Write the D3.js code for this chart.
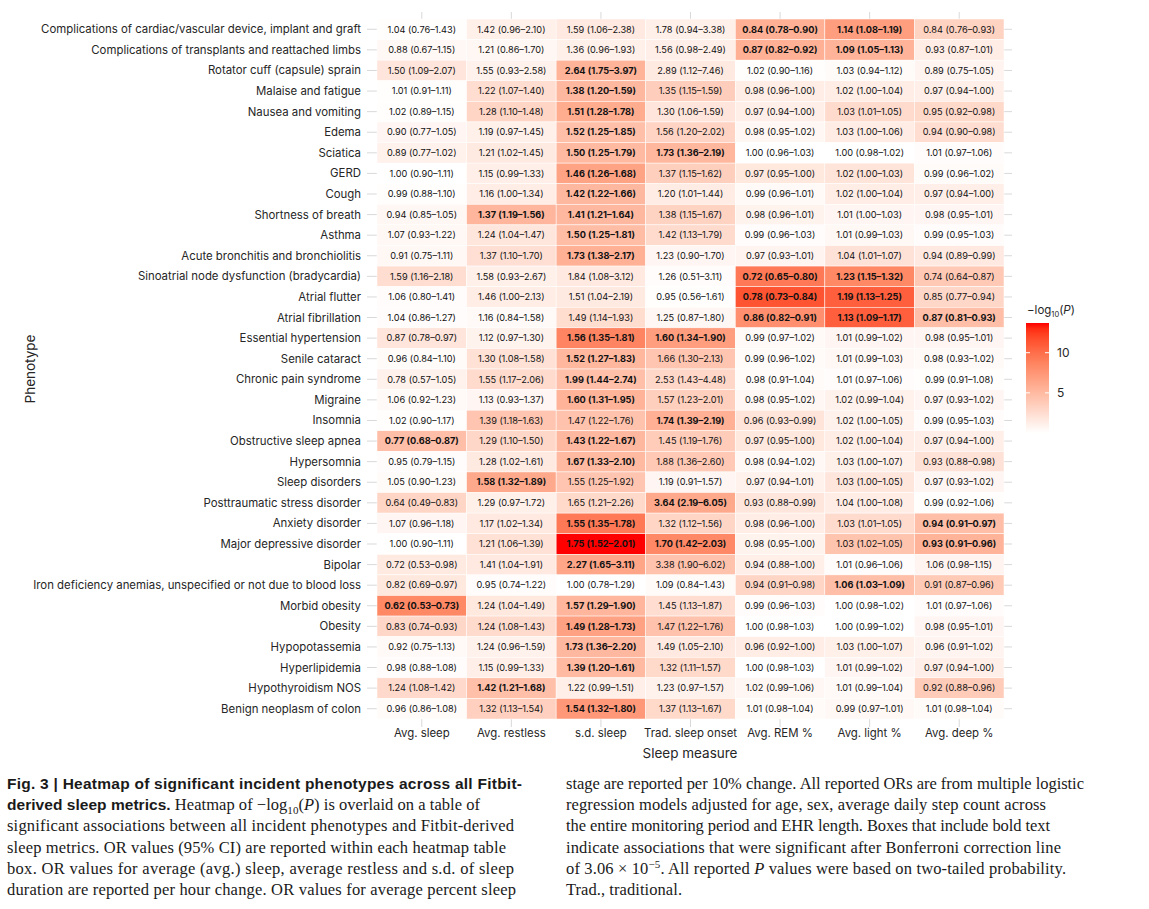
<!DOCTYPE html>
<html><head><meta charset="utf-8">
<script src="https://cdn.jsdelivr.net/npm/d3@7"></script>
<style>
body{margin:0;background:#fff;}
svg{display:block;}
</style></head><body>
<svg id="chart" width="1149" height="909"></svg>
<script>
const sleepMeasures = ["Avg. sleep","Avg. restless","s.d. sleep","Trad. sleep onset","Avg. REM %","Avg. light %","Avg. deep %"];
const phenotypes = [
"Complications of cardiac/vascular device, implant and graft",
"Complications of transplants and reattached limbs",
"Rotator cuff (capsule) sprain",
"Malaise and fatigue",
"Nausea and vomiting",
"Edema",
"Sciatica",
"GERD",
"Cough",
"Shortness of breath",
"Asthma",
"Acute bronchitis and bronchiolitis",
"Sinoatrial node dysfunction (bradycardia)",
"Atrial flutter",
"Atrial fibrillation",
"Essential hypertension",
"Senile cataract",
"Chronic pain syndrome",
"Migraine",
"Insomnia",
"Obstructive sleep apnea",
"Hypersomnia",
"Sleep disorders",
"Posttraumatic stress disorder",
"Anxiety disorder",
"Major depressive disorder",
"Bipolar",
"Iron deficiency anemias, unspecified or not due to blood loss",
"Morbid obesity",
"Obesity",
"Hypopotassemia",
"Hyperlipidemia",
"Hypothyroidism NOS",
"Benign neoplasm of colon"
];
const oddsRatio = [
[1.04,1.42,1.59,1.78,0.84,1.14,0.84],
[0.88,1.21,1.36,1.56,0.87,1.09,0.93],
[1.50,1.55,2.64,2.89,1.02,1.03,0.89],
[1.01,1.22,1.38,1.35,0.98,1.02,0.97],
[1.02,1.28,1.51,1.30,0.97,1.03,0.95],
[0.90,1.19,1.52,1.56,0.98,1.03,0.94],
[0.89,1.21,1.50,1.73,1.00,1.00,1.01],
[1.00,1.15,1.46,1.37,0.97,1.02,0.99],
[0.99,1.16,1.42,1.20,0.99,1.02,0.97],
[0.94,1.37,1.41,1.38,0.98,1.01,0.98],
[1.07,1.24,1.50,1.42,0.99,1.01,0.99],
[0.91,1.37,1.73,1.23,0.97,1.04,0.94],
[1.59,1.58,1.84,1.26,0.72,1.23,0.74],
[1.06,1.46,1.51,0.95,0.78,1.19,0.85],
[1.04,1.16,1.49,1.25,0.86,1.13,0.87],
[0.87,1.12,1.56,1.60,0.99,1.01,0.98],
[0.96,1.30,1.52,1.66,0.99,1.01,0.98],
[0.78,1.55,1.99,2.53,0.98,1.01,0.99],
[1.06,1.13,1.60,1.57,0.98,1.02,0.97],
[1.02,1.39,1.47,1.74,0.96,1.02,0.99],
[0.77,1.29,1.43,1.45,0.97,1.02,0.97],
[0.95,1.28,1.67,1.88,0.98,1.03,0.93],
[1.05,1.58,1.55,1.19,0.97,1.03,0.97],
[0.64,1.29,1.65,3.64,0.93,1.04,0.99],
[1.07,1.17,1.55,1.32,0.98,1.03,0.94],
[1.00,1.21,1.75,1.70,0.98,1.03,0.93],
[0.72,1.41,2.27,3.38,0.94,1.01,1.06],
[0.82,0.95,1.00,1.09,0.94,1.06,0.91],
[0.62,1.24,1.57,1.45,0.99,1.00,1.01],
[0.83,1.24,1.49,1.47,1.00,1.00,0.98],
[0.92,1.24,1.73,1.49,0.96,1.03,0.96],
[0.98,1.15,1.39,1.32,1.00,1.01,0.97],
[1.24,1.42,1.22,1.23,1.02,1.01,0.92],
[0.96,1.32,1.54,1.37,1.01,0.99,1.01]
];
const ciLower = [
[0.76,0.96,1.06,0.94,0.78,1.08,0.76],
[0.67,0.86,0.96,0.98,0.82,1.05,0.87],
[1.09,0.93,1.75,1.12,0.90,0.94,0.75],
[0.91,1.07,1.20,1.15,0.96,1.00,0.94],
[0.89,1.10,1.28,1.06,0.94,1.01,0.92],
[0.77,0.97,1.25,1.20,0.95,1.00,0.90],
[0.77,1.02,1.25,1.36,0.96,0.98,0.97],
[0.90,0.99,1.26,1.15,0.95,1.00,0.96],
[0.88,1.00,1.22,1.01,0.96,1.00,0.94],
[0.85,1.19,1.21,1.15,0.96,1.00,0.95],
[0.93,1.04,1.25,1.13,0.96,0.99,0.95],
[0.75,1.10,1.38,0.90,0.93,1.01,0.89],
[1.16,0.93,1.08,0.51,0.65,1.15,0.64],
[0.80,1.00,1.04,0.56,0.73,1.13,0.77],
[0.86,0.84,1.14,0.87,0.82,1.09,0.81],
[0.78,0.97,1.35,1.34,0.97,0.99,0.95],
[0.84,1.08,1.27,1.30,0.96,0.99,0.93],
[0.57,1.17,1.44,1.43,0.91,0.97,0.91],
[0.92,0.93,1.31,1.23,0.95,0.99,0.93],
[0.90,1.18,1.22,1.39,0.93,1.00,0.95],
[0.68,1.10,1.22,1.19,0.95,1.00,0.94],
[0.79,1.02,1.33,1.36,0.94,1.00,0.88],
[0.90,1.32,1.25,0.91,0.94,1.00,0.93],
[0.49,0.97,1.21,2.19,0.88,1.00,0.92],
[0.96,1.02,1.35,1.12,0.96,1.01,0.91],
[0.90,1.06,1.52,1.42,0.95,1.02,0.91],
[0.53,1.04,1.65,1.90,0.88,0.96,0.98],
[0.69,0.74,0.78,0.84,0.91,1.03,0.87],
[0.53,1.04,1.29,1.13,0.96,0.98,0.97],
[0.74,1.08,1.28,1.22,0.98,0.99,0.95],
[0.75,0.96,1.36,1.05,0.92,1.00,0.91],
[0.88,0.99,1.20,1.11,0.98,0.99,0.94],
[1.08,1.21,0.99,0.97,0.99,0.99,0.88],
[0.86,1.13,1.32,1.13,0.98,0.97,0.98]
];
const ciUpper = [
[1.43,2.10,2.38,3.38,0.90,1.19,0.93],
[1.15,1.70,1.93,2.49,0.92,1.13,1.01],
[2.07,2.58,3.97,7.46,1.16,1.12,1.05],
[1.11,1.40,1.59,1.59,1.00,1.04,1.00],
[1.15,1.48,1.78,1.59,1.00,1.05,0.98],
[1.05,1.45,1.85,2.02,1.02,1.06,0.98],
[1.02,1.45,1.79,2.19,1.03,1.02,1.06],
[1.11,1.33,1.68,1.62,1.00,1.03,1.02],
[1.10,1.34,1.66,1.44,1.01,1.04,1.00],
[1.05,1.56,1.64,1.67,1.01,1.03,1.01],
[1.22,1.47,1.81,1.79,1.03,1.03,1.03],
[1.11,1.70,2.17,1.70,1.01,1.07,0.99],
[2.18,2.67,3.12,3.11,0.80,1.32,0.87],
[1.41,2.13,2.19,1.61,0.84,1.25,0.94],
[1.27,1.58,1.93,1.80,0.91,1.17,0.93],
[0.97,1.30,1.81,1.90,1.02,1.02,1.01],
[1.10,1.58,1.83,2.13,1.02,1.03,1.02],
[1.05,2.06,2.74,4.48,1.04,1.06,1.08],
[1.23,1.37,1.95,2.01,1.02,1.04,1.02],
[1.17,1.63,1.76,2.19,0.99,1.05,1.03],
[0.87,1.50,1.67,1.76,1.00,1.04,1.00],
[1.15,1.61,2.10,2.60,1.02,1.07,0.98],
[1.23,1.89,1.92,1.57,1.01,1.05,1.02],
[0.83,1.72,2.26,6.05,0.99,1.08,1.06],
[1.18,1.34,1.78,1.56,1.00,1.05,0.97],
[1.11,1.39,2.01,2.03,1.00,1.05,0.96],
[0.98,1.91,3.11,6.02,1.00,1.06,1.15],
[0.97,1.22,1.29,1.43,0.98,1.09,0.96],
[0.73,1.49,1.90,1.87,1.03,1.02,1.06],
[0.93,1.43,1.73,1.76,1.03,1.02,1.01],
[1.13,1.59,2.20,2.10,1.00,1.07,1.02],
[1.08,1.33,1.61,1.57,1.03,1.02,1.00],
[1.42,1.68,1.51,1.57,1.06,1.04,0.96],
[1.08,1.54,1.80,1.67,1.04,1.01,1.04]
];
const negLog10P = [
[0.1,1.1,1.6,1.1,5.7,6.9,3.2],
[0.5,0.6,1.1,1.2,5.7,5.4,1.3],
[1.9,1.0,5.5,1.5,0.1,0.3,0.8],
[0.1,2.4,5.1,3.6,1.3,1.3,1.2],
[0.1,3.0,6.0,1.9,1.2,2.6,2.8],
[0.7,1.1,4.6,3.1,0.6,1.4,2.4],
[1.0,1.5,5.0,5.2,0.0,0.0,0.2],
[0.0,1.2,6.6,3.5,1.7,2.0,0.3],
[0.1,1.3,5.1,1.4,0.4,1.3,1.2],
[0.6,5.3,5.1,3.2,0.9,0.7,0.7],
[0.5,1.8,4.8,2.6,0.2,0.5,0.2],
[0.5,2.3,5.7,0.7,0.8,2.1,1.6],
[2.4,1.1,1.6,0.2,9.3,8.4,3.9],
[0.2,1.3,1.5,0.1,11.4,10.8,2.9],
[0.2,0.4,2.5,0.6,7.9,10.8,4.7],
[1.9,0.9,8.6,6.9,0.4,0.7,0.7],
[0.3,2.2,5.2,4.2,0.3,0.5,0.4],
[1.0,2.6,4.6,2.9,0.3,0.2,0.1],
[0.4,0.7,5.4,3.5,0.6,1.0,0.7],
[0.1,4.2,4.4,5.7,2.0,1.0,0.2],
[4.7,2.9,5.1,3.7,1.7,1.3,1.2],
[0.2,1.5,5.0,3.9,0.5,1.1,2.1],
[0.3,6.2,4.2,0.7,1.0,1.8,0.7],
[3.0,1.1,2.8,6.2,1.8,1.3,0.1],
[0.7,1.6,9.3,3.0,1.3,2.6,4.7],
[0.0,2.2,13.7,8.3,0.9,4.3,5.5],
[1.5,1.6,6.4,4.4,1.2,0.2,0.8],
[1.7,0.2,0.0,0.3,3.0,4.7,3.8],
[8.4,1.7,5.3,2.4,0.2,0.0,0.2],
[2.9,2.6,6.7,4.4,0.0,0.0,0.7],
[0.4,1.0,5.1,1.6,1.3,1.1,0.8],
[0.2,1.2,5.0,2.8,0.0,0.7,1.2],
[2.7,4.6,1.2,1.0,0.6,0.4,3.7],
[0.3,3.4,7.3,2.8,0.3,0.5,0.3]
];
const bonferroniSig = [
[0,0,0,0,1,1,0],[0,0,0,0,1,1,0],[0,0,1,0,0,0,0],[0,0,1,0,0,0,0],[0,0,1,0,0,0,0],
[0,0,1,0,0,0,0],[0,0,1,1,0,0,0],[0,0,1,0,0,0,0],[0,0,1,0,0,0,0],[0,1,1,0,0,0,0],
[0,0,1,0,0,0,0],[0,0,1,0,0,0,0],[0,0,0,0,1,1,0],[0,0,0,0,1,1,0],[0,0,0,0,1,1,1],
[0,0,1,1,0,0,0],[0,0,1,0,0,0,0],[0,0,1,0,0,0,0],[0,0,1,0,0,0,0],[0,0,0,1,0,0,0],
[1,0,1,0,0,0,0],[0,0,1,0,0,0,0],[0,1,0,0,0,0,0],[0,0,0,1,0,0,0],[0,0,1,0,0,0,1],
[0,0,1,1,0,0,1],[0,0,1,0,0,0,0],[0,0,0,0,0,1,0],[1,0,1,0,0,0,0],[0,0,1,0,0,0,0],
[0,0,1,0,0,0,0],[0,0,1,0,0,0,0],[0,1,0,0,0,0,0],[0,0,1,0,0,0,0]
];
const legendTicks = [5, 10];

const captionLeft = [
 {w:515, segs:[{t:"Fig. 3 | Heatmap of significant incident phenotypes across all Fitbit-", b:true}]},
 {w:473, segs:[{t:"derived sleep metrics.", b:true},{t:" Heatmap of −log"},{t:"10",sub:true},{t:"("},{t:"P",i:true},{t:") is overlaid on a table of"}]},
 {w:507, segs:[{t:"significant associations between all incident phenotypes and Fitbit-derived"}]},
 {w:499, segs:[{t:"sleep metrics. OR values (95% CI) are reported within each heatmap table"}]},
 {w:507, segs:[{t:"box. OR values for average (avg.) sleep, average restless and s.d. of sleep"}]},
 {w:509, segs:[{t:"duration are reported per hour change. OR values for average percent sleep"}]}
];
const captionRight = [
 {w:518, segs:[{t:"stage are reported per 10% change. All reported ORs are from multiple logistic"}]},
 {w:480, segs:[{t:"regression models adjusted for age, sex, average daily step count across"}]},
 {w:484, segs:[{t:"the entire monitoring period and EHR length. Boxes that include bold text"}]},
 {w:495, segs:[{t:"indicate associations that were significant after Bonferroni correction line"}]},
 {w:500, segs:[{t:"of 3.06 × 10"},{t:"−5",sup:true},{t:". All reported "},{t:"P",i:true},{t:" values were based on two-tailed probability."}]},
 {w:116, segs:[{t:"Trad., traditional."}]}
];

// ---------- drawing ----------
const svg = d3.select("#chart");
const font = "Inter, 'Noto Sans', sans-serif";
const textCol = "#262626";

const x = d3.scaleBand().domain(sleepMeasures).range([377, 1004]).padding(0);
const y = d3.scaleBand().domain(phenotypes).range([19, 719]).padding(0);
const pMax = d3.max(negLog10P.flat());
const color = d3.scaleLinear().domain([0, pMax]).range(["#ffffff", "#ff0000"])
  .interpolate(d3.interpolateLab).clamp(true);

const cells = [];
phenotypes.forEach((ph, i) => sleepMeasures.forEach((sm, j) => {
  cells.push({ph, sm, or: oddsRatio[i][j], lo: ciLower[i][j], hi: ciUpper[i][j],
              p: negLog10P[i][j], sig: bonferroniSig[i][j] === 1});
}));

// grid lines (visible only around the tiles)
const grid = svg.append("g");
const panelL = 367, panelR = 1012, panelT = 12, panelB = 727;
grid.selectAll("line.h").data(phenotypes).join("line")
  .attr("x1", panelL).attr("x2", panelR)
  .attr("y1", d => y(d) + y.bandwidth()/2).attr("y2", d => y(d) + y.bandwidth()/2)
  .attr("stroke", "#d9d9d9").attr("stroke-width", 1);
grid.selectAll("line.v").data(sleepMeasures).join("line")
  .attr("y1", panelT).attr("y2", panelB)
  .attr("x1", d => x(d) + x.bandwidth()/2).attr("x2", d => x(d) + x.bandwidth()/2)
  .attr("stroke", "#d9d9d9").attr("stroke-width", 1);

// tiles
svg.append("g").selectAll("rect").data(cells).join("rect")
  .attr("x", d => x(d.sm)).attr("y", d => y(d.ph))
  .attr("width", x.bandwidth()).attr("height", y.bandwidth())
  .attr("fill", d => color(d.p))
  .attr("stroke", "#ffffff").attr("stroke-width", 0.5);

// cell text
const f2 = d3.format(".2f");
svg.append("g").selectAll("text").data(cells).join("text")
  .attr("x", d => x(d.sm) + x.bandwidth()/2)
  .attr("y", d => y(d.ph) + y.bandwidth()/2)
  .attr("dy", "0.35em")
  .attr("text-anchor", "middle")
  .attr("font-family", font).attr("font-size", 9.2)
  .attr("font-weight", d => d.sig ? 700 : 400)
  .attr("fill", "#111")
  .text(d => `${f2(d.or)} (${f2(d.lo)}–${f2(d.hi)})`);

// y axis labels
svg.append("g").selectAll("text").data(phenotypes).join("text")
  .attr("x", 361).attr("y", d => y(d) + y.bandwidth()/2).attr("dy", "0.35em")
  .attr("text-anchor", "end")
  .attr("font-family", font).attr("font-size", 11.4).attr("fill", textCol)
  .text(d => d);

// x axis labels
svg.append("g").selectAll("text").data(sleepMeasures).join("text")
  .attr("x", d => x(d) + x.bandwidth()/2).attr("y", 737)
  .attr("text-anchor", "middle")
  .attr("font-family", font).attr("font-size", 11.4).attr("fill", textCol)
  .text(d => d);

// axis titles
svg.append("text").attr("x", 690).attr("y", 758).attr("text-anchor", "middle")
  .attr("font-family", font).attr("font-size", 13.5).attr("fill", textCol).text("Sleep measure");
svg.append("text").attr("transform", "translate(35,369) rotate(-90)").attr("text-anchor", "middle")
  .attr("font-family", font).attr("font-size", 13.5).attr("fill", textCol).text("Phenotype");

// legend
const legTop = 323, legBot = 433, legX = 1026, legW = 23;
const ly = d3.scaleLinear().domain([0, pMax]).range([legBot, legTop]);
const defs = svg.append("defs");
const grad = defs.append("linearGradient").attr("id", "lg").attr("x1", 0).attr("y1", 1).attr("x2", 0).attr("y2", 0);
d3.range(0, 1.0001, 0.05).forEach(t => grad.append("stop").attr("offset", t).attr("stop-color", color(t * pMax)));
svg.append("rect").attr("x", legX).attr("y", legTop).attr("width", legW).attr("height", legBot - legTop).attr("fill", "url(#lg)");
const lt = svg.append("g");
lt.selectAll("line.l").data(legendTicks).join("line")
  .attr("x1", legX).attr("x2", legX + 4).attr("y1", d => ly(d)).attr("y2", d => ly(d))
  .attr("stroke", "#fff").attr("stroke-width", 1);
lt.selectAll("line.r").data(legendTicks).join("line")
  .attr("x1", legX + legW - 4).attr("x2", legX + legW).attr("y1", d => ly(d)).attr("y2", d => ly(d))
  .attr("stroke", "#fff").attr("stroke-width", 1);
lt.selectAll("text").data(legendTicks).join("text")
  .attr("x", legX + legW + 8).attr("y", d => ly(d)).attr("dy", "0.35em")
  .attr("font-family", font).attr("font-size", 12).attr("fill", textCol).text(d => d);
const lgT = svg.append("text").attr("x", legX + 1).attr("y", 314)
  .attr("font-family", font).attr("font-size", 11.5).attr("fill", textCol);
lgT.append("tspan").text("−log");
lgT.append("tspan").attr("font-size", 7.5).attr("dy", 2.5).text("10");
lgT.append("tspan").attr("dy", -2.5).text("(");
lgT.append("tspan").attr("font-style", "italic").text("P");
lgT.append("tspan").text(")");

// caption
function drawCaption(lines, x0) {
  lines.forEach((line, i) => {
    const t = svg.append("text").attr("x", x0).attr("y", 789 + i * 21.2)
      .attr("font-family", "'Liberation Serif', serif").attr("font-size", 16.5).attr("fill", "#1a1a1a")
      .attr("textLength", line.w).attr("lengthAdjust", "spacing");
    let shift = 0;
    line.segs.forEach(s => {
      const sp = t.append("tspan").text(s.t);
      const want = s.sub ? 3.5 : (s.sup ? -6 : 0);
      if (want !== shift) { sp.attr("dy", want - shift); shift = want; }
      if (s.b) sp.attr("font-family", "'Liberation Sans', Arial, sans-serif").attr("font-weight", 700).attr("font-size", 15.5);
      if (s.i) sp.attr("font-style", "italic");
      if (s.sub || s.sup) sp.attr("font-size", 11);
    });
  });
}
drawCaption(captionLeft, 7);
drawCaption(captionRight, 566);
</script>
</body></html>
